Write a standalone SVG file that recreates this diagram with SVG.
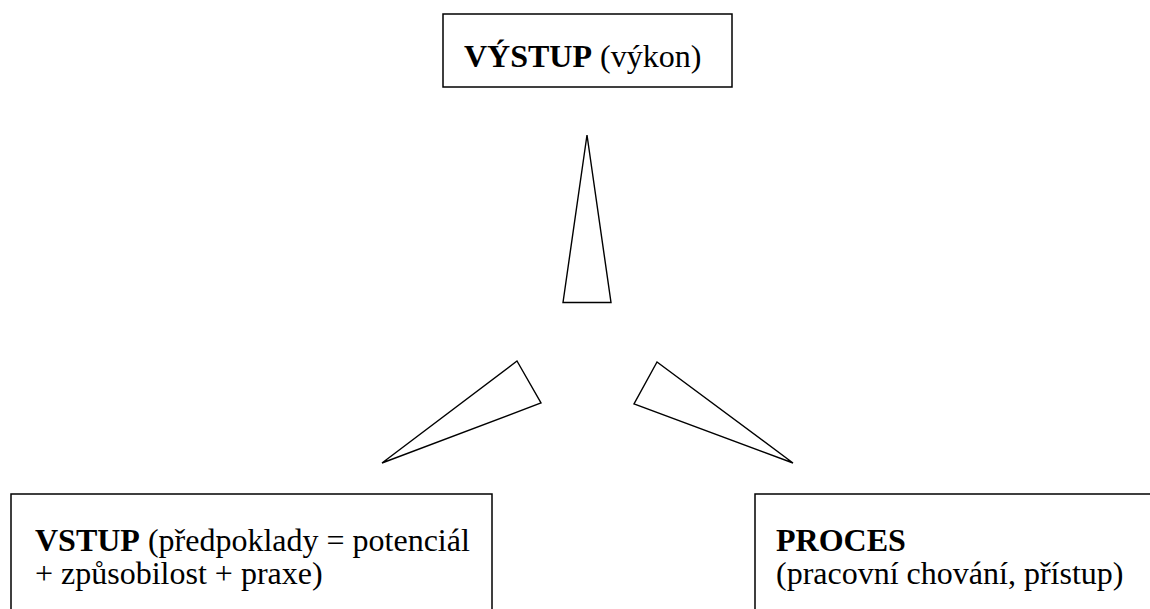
<svg xmlns="http://www.w3.org/2000/svg" width="1150" height="609" viewBox="0 0 1150 609">
<style>
.box{fill:#fff;stroke:#000;stroke-width:1.5}
.tri{fill:#fff;stroke:#000;stroke-width:1.4;stroke-linejoin:miter}
text{font-family:"Liberation Serif","Times New Roman",serif;font-size:32px;fill:#000}
.b{font-weight:bold}
</style>
<rect width="1150" height="609" fill="#fff"/>
<g id="vystup">
<rect class="box" x="443" y="14" width="289" height="73"/>
<text x="464" y="67"><tspan class="b">VÝSTUP</tspan> (výkon)</text>
</g>
<g id="connectors">
<polygon class="tri" points="587,135 563,302.5 611,302.5"/>
<polygon class="tri" points="517,361 541,403 382,463"/>
<polygon class="tri" points="657,362 634,404 793,463"/>
</g>
<g id="vstup">
<rect class="box" x="11" y="494" width="481" height="130"/>
<text x="35" y="551"><tspan class="b">VSTUP</tspan> (předpoklady = potenciál</text>
<text x="35" y="584">+ způsobilost + praxe)</text>
</g>
<g id="proces">
<rect class="box" x="755" y="494" width="420" height="130"/>
<text class="b" x="776" y="551">PROCES</text>
<text x="776" y="584">(pracovní chování, přístup)</text>
</g>
</svg>
